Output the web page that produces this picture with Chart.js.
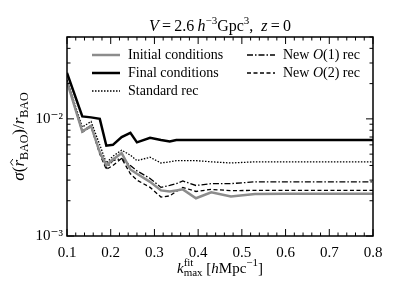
<!DOCTYPE html>
<html>
<head>
<meta charset="utf-8">
<script src="https://cdn.jsdelivr.net/npm/chart.js@4/dist/chart.umd.min.js"></script>
<style>
  html, body { margin: 0; padding: 0; background: #fff; }
  canvas { display: block; }
</style>
</head>
<body>
<canvas id="chart" width="399" height="299"></canvas>
<script>
// k_max^fit values and sigma(r_BAO)/r_BAO
const kVals = [0.10, 0.135, 0.155, 0.175, 0.19, 0.205, 0.225, 0.245, 0.26, 0.29, 0.315, 0.335, 0.35, 0.365, 0.395, 0.43, 0.475, 0.53, 0.6, 0.7, 0.8];
const initialVals = [0.0207, 0.0078, 0.0087, 0.0052, 0.0040, 0.0045, 0.0051, 0.0037, 0.0034, 0.0029, 0.00245, 0.0024, 0.00245, 0.0025, 0.0021, 0.00236, 0.00217, 0.00228, 0.0023, 0.0023, 0.0023];
const finalVals = [0.0247, 0.0105, 0.0103, 0.0100, 0.0059, 0.0060, 0.0070, 0.0076, 0.0063, 0.0069, 0.0066, 0.0064, 0.0066, 0.0066, 0.0066, 0.0066, 0.0066, 0.0066, 0.0066, 0.0066, 0.0066];
const standardVals = [0.0215, 0.0085, 0.0095, 0.0060, 0.0042, 0.0048, 0.0054, 0.0049, 0.0044, 0.0047, 0.0042, 0.0043, 0.0044, 0.0044, 0.0044, 0.0043, 0.0042, 0.0043, 0.0043, 0.0043, 0.0043];
const newO1Vals = [0.0212, 0.0079, 0.0088, 0.0052, 0.0038, 0.0044, 0.0046, 0.0040, 0.0036, 0.0031, 0.0026, 0.0027, 0.0028, 0.00295, 0.0027, 0.0028, 0.0028, 0.0029, 0.0029, 0.0029, 0.0029];
const newO2Vals = [0.0210, 0.0077, 0.0086, 0.0050, 0.0037, 0.0040, 0.0046, 0.0034, 0.0030, 0.0026, 0.00215, 0.0022, 0.0024, 0.0026, 0.0024, 0.0025, 0.00244, 0.00245, 0.00245, 0.00245, 0.00245];
const xTicks = [0.1, 0.2, 0.3, 0.4, 0.5, 0.6, 0.7, 0.8];

const SERIF = '"Liberation Serif", "DejaVu Serif", serif';
const pts = arr => kVals.map((k, i) => ({ x: k, y: arr[i] }));

// draws a run of text pieces, each with its own style
function drawRich(ctx, segs, x, y, size, align) {
    const fontOf = s => (s.it ? 'italic ' : '') + Math.round(size * (s.sup || s.sub ? 0.7 : 1)) + 'px ' + SERIF;
    let total = 0;
    segs.forEach(s => {
        ctx.font = fontOf(s);
        s.w = s.stack ? 0 : ctx.measureText(s.t).width;
        total += s.w;
    });
    let cx = align === 'center' ? x - total / 2 : x;
    ctx.textBaseline = 'middle';
    ctx.textAlign = 'left';
    let lastX = cx;
    segs.forEach(s => {
        ctx.font = fontOf(s);
        let dy = s.sup ? -size * 0.38 : s.sub ? size * 0.28 : 0;
        let px = s.stack ? lastX : cx;
        ctx.fillText(s.t, px, y + dy);
        if (s.hat) {
            const hy = y - size * 0.42;
            ctx.save();
            ctx.lineWidth = 0.9;
            ctx.strokeStyle = ctx.fillStyle;
            ctx.beginPath();
            ctx.moveTo(px + 1, hy);
            ctx.lineTo(px + 1 + s.w / 2, hy - size * 0.14);
            ctx.lineTo(px + 1 + s.w, hy);
            ctx.stroke();
            ctx.restore();
        }
        lastX = px;
        if (!s.stack) cx += s.w;
    });
}

const framePlugin = {
    id: 'frame',
    afterDraw(chart) {
        const { ctx, chartArea: a, scales } = chart;
        ctx.save();
        ctx.strokeStyle = '#000';
        ctx.lineWidth = 1.5;
        ctx.strokeRect(a.left, a.top, a.right - a.left, a.bottom - a.top);

        ctx.lineWidth = 1;
        ctx.beginPath();
        for (let i = 0; i <= 35; i++) {
            const v = 0.1 + i * 0.02;
            const px = scales.x.getPixelForValue(v);
            const len = i % 5 === 0 ? 7 : 3.5;
            ctx.moveTo(px, a.bottom); ctx.lineTo(px, a.bottom - len);
            ctx.moveTo(px, a.top); ctx.lineTo(px, a.top + len);
        }
        [0.001, 0.01].forEach(dec => {
            for (let m = 1; m <= 9; m++) {
                const v = dec * m;
                if (v > 0.05 + 1e-9) break;
                const py = scales.y.getPixelForValue(v);
                const len = m === 1 ? 7 : 3.5;
                ctx.moveTo(a.left, py); ctx.lineTo(a.left + len, py);
                ctx.moveTo(a.right, py); ctx.lineTo(a.right - len, py);
            }
        });
        ctx.stroke();

        ctx.fillStyle = '#000';
        // title
        drawRich(ctx, [
            { t: 'V', it: true }, { t: '\u2009=\u20092.6\u2009' }, { t: 'h', it: true },
            { t: '\u22123', sup: true }, { t: 'Gpc' }, { t: '3', sup: true },
            { t: ',  ' }, { t: 'z', it: true }, { t: '\u2009=\u20090' }
        ], (a.left + a.right) / 2, 27, 16, 'center');

        // x label
        drawRich(ctx, [
            { t: 'k', it: true }, { t: 'max', sub: true }, { t: 'fit', sup: true, stack: true },
            { t: ' [' }, { t: 'h', it: true }, { t: 'Mpc' }, { t: '\u22121', sup: true }, { t: ']' }
        ], (a.left + a.right) / 2, 269, 15, 'center');

        // y label
        ctx.save();
        ctx.translate(20, (a.top + a.bottom) / 2);
        ctx.rotate(-Math.PI / 2);
        drawRich(ctx, [
            { t: '\u03c3', it: true }, { t: '(' }, { t: 'r', it: true, hat: true }, { t: 'BAO', sub: true },
            { t: ')/' }, { t: 'r', it: true }, { t: 'BAO', sub: true }
        ], 0, 0, 17, 'center');
        ctx.restore();

        // legend
        const rows = [
            { ds: 0, x: 92, y: 55 }, { ds: 1, x: 92, y: 73 }, { ds: 2, x: 92, y: 91 },
            { ds: 3, x: 247, y: 55 }, { ds: 4, x: 247, y: 73 }
        ];
        rows.forEach(r => {
            const ds = chart.data.datasets[r.ds];
            ctx.beginPath();
            ctx.strokeStyle = ds.borderColor;
            ctx.lineWidth = ds.borderWidth;
            ctx.setLineDash(ds.borderDash || []);
            ctx.moveTo(r.x, r.y); ctx.lineTo(r.x + 28, r.y);
            ctx.stroke();
            ctx.setLineDash([]);
            drawRich(ctx, ds.labelSegs, r.x + 36, r.y, 14, 'left');
        });
        ctx.restore();
    }
};

new Chart(document.getElementById('chart'), {
    type: 'line',
    data: {
        datasets: [
            { label: 'Initial conditions', labelSegs: [{ t: 'Initial conditions' }], data: pts(initialVals), borderColor: '#8c8c8c', borderWidth: 2.5 },
            { label: 'Final conditions', labelSegs: [{ t: 'Final conditions' }], data: pts(finalVals), borderColor: '#000', borderWidth: 2.5 },
            { label: 'Standard rec', labelSegs: [{ t: 'Standard rec' }], data: pts(standardVals), borderColor: '#000', borderWidth: 1.3, borderDash: [1.5, 1.5] },
            { label: 'New O(1) rec', labelSegs: [{ t: 'New ' }, { t: 'O', it: true }, { t: '(1) rec' }], data: pts(newO1Vals), borderColor: '#000', borderWidth: 1.3, borderDash: [6, 2, 1.5, 2] },
            { label: 'New O(2) rec', labelSegs: [{ t: 'New ' }, { t: 'O', it: true }, { t: '(2) rec' }], data: pts(newO2Vals), borderColor: '#000', borderWidth: 1.3, borderDash: [4, 2.5] }
        ]
    },
    options: {
        responsive: false,
        animation: false,
        elements: { point: { radius: 0 }, line: { tension: 0, fill: false } },
        layout: { padding: { top: 37, right: 26, left: 0, bottom: 0 } },
        plugins: { legend: { display: false }, title: { display: false }, tooltip: { enabled: false } },
        scales: {
            x: {
                type: 'linear', min: 0.1, max: 0.8,
                grid: { display: false, drawTicks: false },
                border: { display: false },
                afterBuildTicks: s => { s.ticks = xTicks.map(v => ({ value: v })); },
                afterFit: s => { s.height = 63; },
                ticks: {
                    color: '#000', padding: 8, maxRotation: 0, autoSkip: false,
                    font: { family: SERIF, size: 15 },
                    callback: v => v.toFixed(1)
                }
            },
            y: {
                type: 'logarithmic', min: 0.001, max: 0.05,
                grid: { display: false, drawTicks: false },
                border: { display: false },
                afterFit: s => { s.width = 67; },
                ticks: {
                    color: '#000', padding: 4, autoSkip: false,
                    font: { family: SERIF, size: 15 },
                    callback: v => {
                        const e = Math.log10(v);
                        if (Math.abs(e - Math.round(e)) > 1e-6) return '';
                        return '10' + (Math.round(e) === -2 ? '\u207b\u00b2' : '\u207b\u00b3');
                    }
                }
            }
        }
    },
    plugins: [framePlugin]
});
</script>
</body>
</html>
